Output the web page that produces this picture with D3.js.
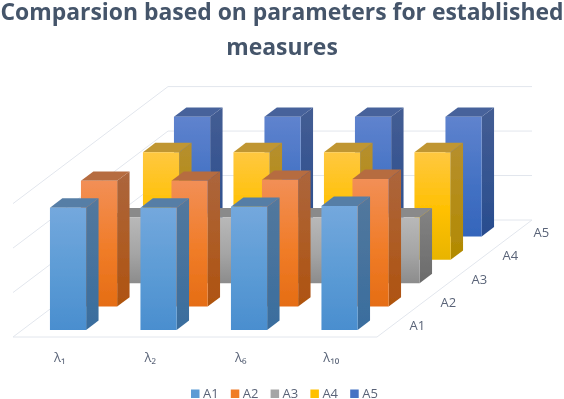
<!DOCTYPE html>
<html>
<head>
<meta charset="utf-8">
<script src="https://cdn.jsdelivr.net/npm/d3@7"></script>
<style>
	html, body { margin: 0; padding: 0; background: #fff; }
	svg { display: block; }
	text { font-family: "Open Sans", sans-serif; fill: #5a6478; }
</style>
</head>
<body>
<svg class="chart" width="564" height="399"></svg>
<script>
var categories = ['λ₁', 'λ₂', 'λ₆', 'λ₁₀'];
var seriesNames = ['A1', 'A2', 'A3', 'A4', 'A5'];
var gridValues = [0, 1, 2, 3];

// heights, in gridline units (no value axis is shown)
var a1 = [2.75, 2.75, 2.77, 2.79];
var a2 = [2.83, 2.83, 2.85, 2.87];
var a3 = [1.48, 1.48, 1.48, 1.48];
var a4 = [2.42, 2.42, 2.42, 2.42];
var a5 = [2.69, 2.69, 2.69, 2.69];
var seriesValues = [a1, a2, a3, a4, a5];

var colors = ['#5b9bd5', '#f07c28', '#a5a5a5', '#ffc000', '#4472c4'];
var topColors = ['#74a8dd', '#f28f56', '#b8b8b8', '#ffc840', '#5f83ce'];
var bottomColors = ['#4a8ecf', '#e56d14', '#8c8c8c', '#e8b400', '#3465bb'];

var svg = d3.select('svg.chart');

var floorY = 337, wallLeft = 13, wallRight = 377, depthW = 155, depthH = 117;

var x = d3.scaleBand().domain(categories).range([13.5, 375.5]).paddingInner(0.6).paddingOuter(0.3);
var z = d3.scaleBand().domain(seriesNames).range([0, 1]).paddingInner(0.6).paddingOuter(0.3);
var y = d3.scaleLinear().domain([0, 3]).range([0, 133.4]);

// oblique projection: px along the front, d 0..1 into the floor, h up in px
function project(px, d, h) {
	return [px + d * depthW, floorY - d * depthH - h];
}
function poly(points) {
	return 'M' + points.map(p => p.join(',')).join('L') + 'Z';
}

// gradients
var defs = svg.append('defs');
seriesNames.forEach((name, i) => {
	var grad = defs.append('linearGradient')
		.attr('id', 'front-' + name)
		.attr('x1', 0).attr('y1', 0).attr('x2', 0).attr('y2', 1);
	grad.append('stop').attr('offset', '0%').attr('stop-color', topColors[i]);
	grad.append('stop').attr('offset', '55%').attr('stop-color', colors[i]);
	grad.append('stop').attr('offset', '100%').attr('stop-color', bottomColors[i]);

	var side = defs.append('linearGradient')
		.attr('id', 'side-' + name)
		.attr('x1', 0).attr('y1', 0).attr('x2', 0).attr('y2', 1);
	side.append('stop').attr('offset', '0%').attr('stop-color', d3.color(topColors[i]).darker(0.95));
	side.append('stop').attr('offset', '100%').attr('stop-color', d3.color(bottomColors[i]).darker(0.75));
});
defs.append('filter').attr('id', 'soft')
	.attr('x', '-5%').attr('y', '-5%').attr('width', '110%').attr('height', '110%')
	.append('feGaussianBlur').attr('stdDeviation', 0.5);

// the reference is a soft raster, so everything sits under one light blur
var root = svg.append('g').attr('filter', 'url(#soft)');

// walls and floor
var grid = root.append('g')
	.attr('fill', 'none')
	.attr('stroke', '#e2e6ed')
	.attr('stroke-width', 1);

grid.selectAll('.wall')
	.data(gridValues)
	.enter()
	.append('path')
		.attr('class', 'wall')
		.attr('d', d => {
			var a = project(wallLeft, 0, y(d)), b = project(wallLeft, 1, y(d)), c = project(wallRight, 1, y(d));
			return 'M' + a + 'L' + b + 'L' + c;
		});

grid.append('path')
	.attr('d', 'M' + project(wallLeft, 0, 0) + 'L' + project(wallRight, 0, 0) + 'L' + project(wallRight, 1, 0));

// bars, back row first so the front rows cover them
var rows = seriesNames.map((name, i) => ({name: name, values: seriesValues[i]})).reverse();

var bars = root.append('g');

rows.forEach(row => {
	var g = bars.append('g').attr('class', 'series-' + row.name);
	var w = x.bandwidth(), d0 = z(row.name), d1 = d0 + z.bandwidth();

	var bar = g.selectAll('.bar')
		.data(categories.map((c, i) => ({cat: c, value: row.values[i]})))
		.enter()
		.append('g')
			.attr('class', 'bar');

	bar.append('path')
		.attr('fill', 'url(#side-' + row.name + ')')
		.attr('d', d => poly([
			project(x(d.cat) + w, d0, y(d.value)),
			project(x(d.cat) + w, d1, y(d.value)),
			project(x(d.cat) + w, d1, 0),
			project(x(d.cat) + w, d0, 0)
		]));

	bar.append('path')
		.attr('fill', d3.color(topColors[seriesNames.indexOf(row.name)]).darker(0.8))
		.attr('d', d => poly([
			project(x(d.cat), d0, y(d.value)),
			project(x(d.cat), d1, y(d.value)),
			project(x(d.cat) + w, d1, y(d.value)),
			project(x(d.cat) + w, d0, y(d.value))
		]));

	bar.append('path')
		.attr('fill', 'url(#front-' + row.name + ')')
		.attr('d', d => poly([
			project(x(d.cat), d0, y(d.value)),
			project(x(d.cat) + w, d0, y(d.value)),
			project(x(d.cat) + w, d0, 0),
			project(x(d.cat), d0, 0)
		]));
});

// title
root.append('g')
	.attr('font-size', 22.9)
	.attr('font-weight', 700)
	.attr('text-anchor', 'middle')
	.selectAll('text')
	.data(['Comparsion based on parameters for established', 'measures'])
	.enter()
	.append('text')
		.style('fill', '#44546a')
		.attr('x', 282)
		.attr('y', (d, i) => 20 + i * 35)
		.text(d => d);

// category labels under the floor
root.append('g')
	.attr('font-size', 13)
	.selectAll('text')
	.data(categories)
	.enter()
	.append('text')
		.attr('x', d => x(d) + x.bandwidth() / 2 + 1)
		.attr('y', 362)
		.attr('text-anchor', 'middle')
		.text(d => d);

// series labels along the right edge of the floor
root.append('g')
	.attr('font-size', 13)
	.selectAll('text')
	.data(seriesNames)
	.enter()
	.append('text')
		.attr('x', d => project(wallRight, z(d) + z.bandwidth() / 2, 0)[0] + 17)
		.attr('y', d => project(wallRight, z(d) + z.bandwidth() / 2, 0)[1] + 5)
		.text(d => d);

// legend
var legend = root.append('g')
	.selectAll('g')
	.data(seriesNames)
	.enter()
	.append('g')
		.attr('transform', (d, i) => 'translate(' + (191 + i * 39.8) + ',389.5)');

legend.append('rect')
	.attr('width', 8.5)
	.attr('height', 8.5)
	.attr('fill', (d, i) => colors[i]);

legend.append('text')
	.attr('x', 12)
	.attr('y', 8.5)
	.attr('font-size', 13)
	.text(d => d);
</script>
</body>
</html>
